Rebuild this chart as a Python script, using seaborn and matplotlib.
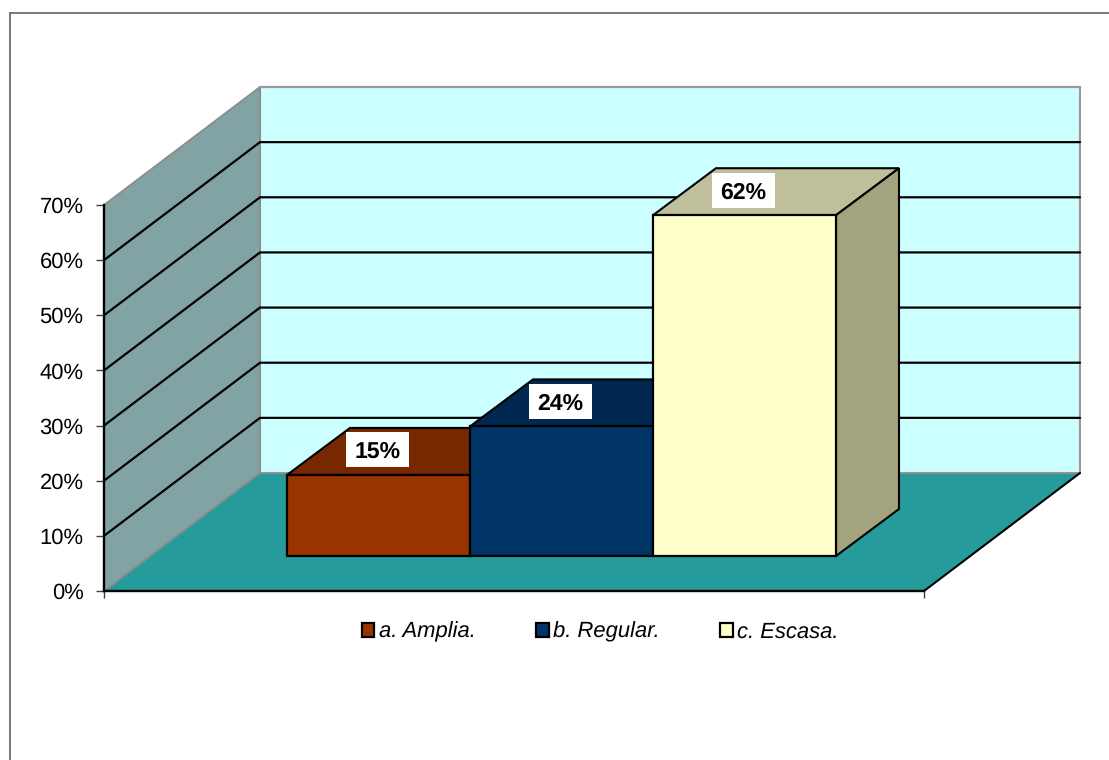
import matplotlib
matplotlib.use('Agg')
import matplotlib.pyplot as plt
from matplotlib.patches import Polygon, Rectangle
import pandas as pd
import seaborn as sns

categories = ['a. Amplia.', 'b. Regular.', 'c. Escasa.']
values = [14.7, 23.5, 61.8]
bar_colors = ['#993300', '#003366', '#FFFFCC']
top_colors = ['#772800', '#002850', '#BFBF9C']
side_colors = ['#662200', '#002244', '#A3A37F']
y_ticks = [0, 10, 20, 30, 40, 50, 60, 70]

W, H = 1109, 760
sns.set_theme(style='white')
plt.rcParams['font.family'] = ['Liberation Sans', 'DejaVu Sans']
plt.rcParams['text.color'] = 'black'
plt.rcParams['text.hinting'] = 'no_hinting'
plt.rcParams['text.hinting_factor'] = 1

px_per_pct = (591 - 205) / 70


def place(left, right, top, bottom):
    return [left / W, 1 - bottom / H, (right - left) / W, (bottom - top) / H]


fig = plt.figure(figsize=(W / 100, H / 100), dpi=100, facecolor='white')

# outer chart frame, runs off the right and bottom of the image
fig.add_artist(Rectangle((10 / W, -0.1), 1.2, 1.1 - 13 / H, transform=fig.transFigure,
                         fill=False, edgecolor='#777777', linewidth=1.4))

# front plane of the box, x data is in pixels from the axis
ax = fig.add_axes(place(104, 924, 205, 591))
ax.set_xlim(0, 820)
ax.set_ylim(0, 70)
ax.patch.set_visible(False)
ax.set_zorder(1)

dx, dy = 156, 118 / px_per_pct
top = y_ticks[-1]
ax.add_patch(Polygon([(dx, dy), (dx + 820, dy), (dx + 820, top + dy), (dx, top + dy)],
                     closed=True, facecolor='#CCFFFF', edgecolor='#999999', linewidth=1.5,
                     clip_on=False, zorder=0))
ax.add_patch(Polygon([(0, 0), (dx, dy), (dx, top + dy), (0, top)],
                     closed=True, facecolor='#82A3A3', edgecolor='#8C8C8C', linewidth=1.3,
                     clip_on=False, zorder=1))
ax.add_patch(Polygon([(0, 0), (820, 0), (820 + dx, dy), (dx, dy)],
                     closed=True, facecolor='#269B9B', edgecolor='none',
                     clip_on=False, zorder=1))
ax.plot([0, dx], [0, dy], color='#8C8C8C', lw=1.3, clip_on=False, zorder=2)
ax.plot([dx, dx + 820], [dy, dy], color='#8C8C8C', lw=1.0, clip_on=False, zorder=2)
ax.plot([820, 820 + dx], [0, dy], color='black', lw=1.5, clip_on=False, zorder=2)
for t in y_ticks[1:-1]:
    ax.plot([0, dx, dx + 820], [t, t + dy, t + dy], color='black', lw=1.6,
            clip_on=False, zorder=2, solid_joinstyle='miter')
ax.plot([dx, dx + 820], [top + dy, top + dy], color='#999999', lw=1.5, clip_on=False, zorder=2)

ax.set_yticks(y_ticks)
ax.set_yticklabels([f'{t}%' for t in y_ticks], fontsize=16.2, color='black')
ax.set_xticks([0, 820])
ax.set_xticklabels(['', ''])
ax.tick_params(axis='y', left=True, length=5.5, width=1.0, color='#404040', pad=9.2)
ax.tick_params(axis='x', bottom=True, length=5, width=1.0, color='#404040')
sns.despine(ax=ax, top=True, right=True)
for name in ['left', 'bottom']:
    ax.spines[name].set_color('black')
    ax.spines[name].set_linewidth(1.7)

# bars stand inside the box, their base is 35 px above the front edge
ax_bars = fig.add_axes(place(287, 836, 556 - 70 * px_per_pct, 556))
ax_bars.set_zorder(2)
df = pd.DataFrame({'categoria': categories, 'valor': values})
sns.barplot(data=df, x='categoria', y='valor', hue='categoria', hue_order=categories,
            palette=bar_colors, saturation=1, width=1, edgecolor='black', linewidth=1.6,
            legend=True, ax=ax_bars)
ax_bars.set_xlim(-0.5, 2.5)
ax_bars.set_ylim(0, 70)

px_per_bar = 549 / 3
depth_x = 63 / px_per_bar
depth_y = 47 / px_per_pct
for i, bar in enumerate(ax_bars.patches[:len(values)]):
    x0, w, h = bar.get_x(), bar.get_width(), bar.get_height()
    x1 = x0 + w
    bar.set_zorder(2 * i + 4)
    bar.set_clip_on(False)
    ax_bars.add_patch(Polygon([(x0, h), (x1, h), (x1 + depth_x, h + depth_y), (x0 + depth_x, h + depth_y)],
                              closed=True, facecolor=top_colors[i], edgecolor='black', linewidth=1.5,
                              clip_on=False, zorder=2 * i + 3))
    ax_bars.add_patch(Polygon([(x1, 0), (x1 + depth_x, depth_y), (x1 + depth_x, h + depth_y), (x1, h)],
                              closed=True, facecolor=side_colors[i], edgecolor='black', linewidth=1.5,
                              clip_on=False, zorder=2 * i + 3))
    # white label box, 63 x 35 px
    cx, cy = x0 + w / 2 - 1 / px_per_bar, h + 25 / px_per_pct
    box_w, box_h = 63 / px_per_bar, 35 / px_per_pct
    ax_bars.add_patch(Rectangle((cx - box_w / 2, cy - box_h / 2), box_w, box_h, facecolor='white',
                                edgecolor='none', clip_on=False, zorder=19))
    ax_bars.text(cx, cy, f'{values[i]:.0f}%', ha='center', va='center_baseline',
                 fontsize=16.5, fontweight='bold', color='black', zorder=20, clip_on=False)

ax_bars.set_axis_off()

sns.move_legend(ax_bars, 'center', bbox_to_anchor=(600 / W, 1 - 632 / H),
                bbox_transform=fig.transFigure, ncols=3, frameon=False, title=None,
                prop={'style': 'italic', 'size': 15.8}, handlelength=0.58, handleheight=0.58,
                handletextpad=0.2, columnspacing=2.75)
legend = ax_bars.get_legend()
for handle in legend.legend_handles:
    handle.set_edgecolor('black')
    handle.set_linewidth(1.6)
for label in legend.get_texts():
    label.set_color('black')

fig.savefig('out.png', dpi=100)
